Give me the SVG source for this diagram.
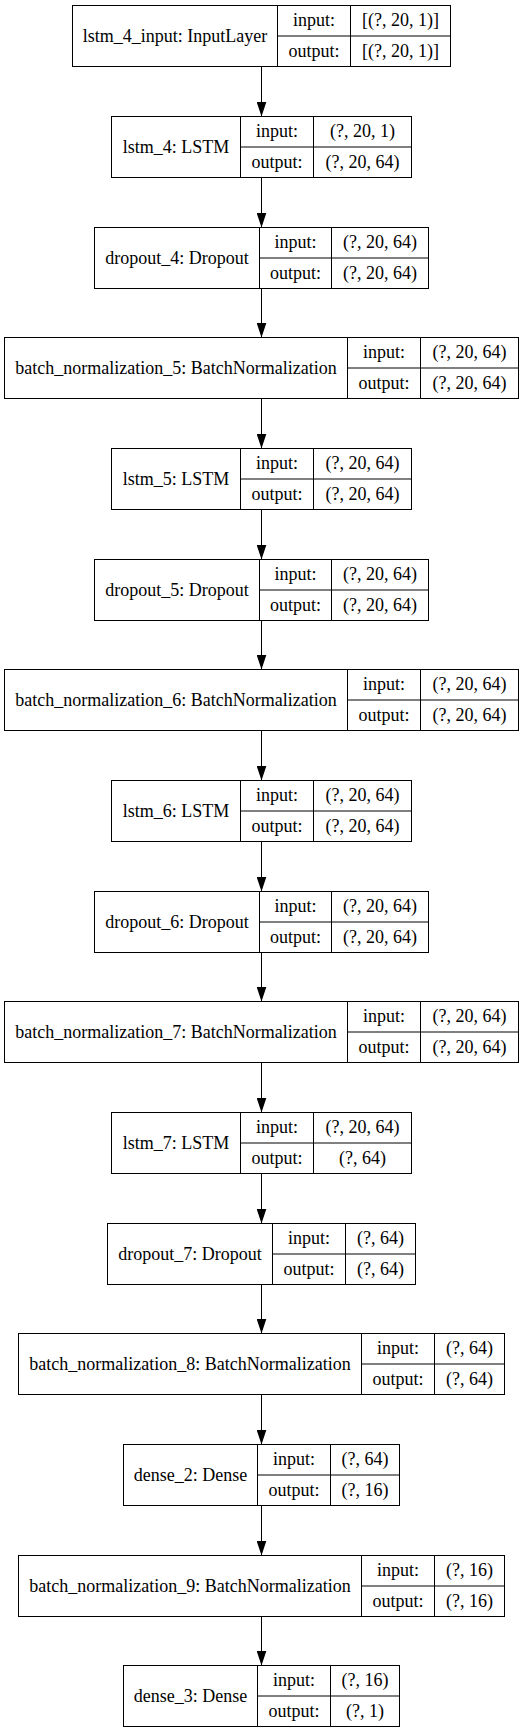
<svg xmlns="http://www.w3.org/2000/svg" width="529" height="1733" viewBox="0 0 529 1733">
<defs>
<style>
.b{fill:none;stroke:#000;stroke-width:1}
.t{font-family:"Liberation Serif","Times New Roman",serif;font-size:18px;fill:#000;text-anchor:middle}
.e{fill:none;stroke:#000;stroke-width:1}
</style>
<marker id="ah" viewBox="0 0 15 10" refX="15" refY="5" markerWidth="15" markerHeight="10" markerUnits="userSpaceOnUse" orient="auto">
<path d="M0,0 L15,5 L0,10 z" fill="#000"/>
</marker>
</defs>
<rect width="529" height="1733" fill="#fff"/>
<g id="edges">
<line class="e" x1="261.5" y1="66.5" x2="261.5" y2="116.5" marker-end="url(#ah)"/>
<line class="e" x1="261.5" y1="177.5" x2="261.5" y2="227.5" marker-end="url(#ah)"/>
<line class="e" x1="261.5" y1="288.5" x2="261.5" y2="337.5" marker-end="url(#ah)"/>
<line class="e" x1="261.5" y1="398.5" x2="261.5" y2="448.5" marker-end="url(#ah)"/>
<line class="e" x1="261.5" y1="509.5" x2="261.5" y2="559.5" marker-end="url(#ah)"/>
<line class="e" x1="261.5" y1="620.5" x2="261.5" y2="669.5" marker-end="url(#ah)"/>
<line class="e" x1="261.5" y1="730.5" x2="261.5" y2="780.5" marker-end="url(#ah)"/>
<line class="e" x1="261.5" y1="841.5" x2="261.5" y2="891.5" marker-end="url(#ah)"/>
<line class="e" x1="261.5" y1="952.5" x2="261.5" y2="1001.5" marker-end="url(#ah)"/>
<line class="e" x1="261.5" y1="1062.5" x2="261.5" y2="1112.5" marker-end="url(#ah)"/>
<line class="e" x1="261.5" y1="1173.5" x2="261.5" y2="1223.5" marker-end="url(#ah)"/>
<line class="e" x1="261.5" y1="1284.5" x2="261.5" y2="1333.5" marker-end="url(#ah)"/>
<line class="e" x1="261.5" y1="1394.5" x2="261.5" y2="1444.5" marker-end="url(#ah)"/>
<line class="e" x1="261.5" y1="1505.5" x2="261.5" y2="1555.5" marker-end="url(#ah)"/>
<line class="e" x1="261.5" y1="1616.5" x2="261.5" y2="1665.5" marker-end="url(#ah)"/>
</g>
<g id="lstm_4_input" transform="translate(0,5.5)">
<rect class="b" x="72.5" y="0" width="378" height="61"/>
<path class="b" d="M277.5,0V61M350.5,0V61M277.5,30.5H450.5"/>
<text class="t" x="175" y="36">lstm_4_input: InputLayer</text>
<text class="t" x="314" y="20.75">input:</text>
<text class="t" x="400.5" y="20.75">[(?, 20, 1)]</text>
<text class="t" x="314" y="51.25">output:</text>
<text class="t" x="400.5" y="51.25">[(?, 20, 1)]</text>
</g>
<g id="lstm_4" transform="translate(0,116.5)">
<rect class="b" x="111.5" y="0" width="300" height="61"/>
<path class="b" d="M240.5,0V61M313.5,0V61M240.5,30.5H411.5"/>
<text class="t" x="176" y="36">lstm_4: LSTM</text>
<text class="t" x="277" y="20.75">input:</text>
<text class="t" x="362.5" y="20.75">(?, 20, 1)</text>
<text class="t" x="277" y="51.25">output:</text>
<text class="t" x="362.5" y="51.25">(?, 20, 64)</text>
</g>
<g id="dropout_4" transform="translate(0,227.5)">
<rect class="b" x="94.5" y="0" width="334" height="61"/>
<path class="b" d="M259.5,0V61M331.5,0V61M259.5,30.5H428.5"/>
<text class="t" x="177" y="36">dropout_4: Dropout</text>
<text class="t" x="295.5" y="20.75">input:</text>
<text class="t" x="380" y="20.75">(?, 20, 64)</text>
<text class="t" x="295.5" y="51.25">output:</text>
<text class="t" x="380" y="51.25">(?, 20, 64)</text>
</g>
<g id="batch_normalization_5" transform="translate(0,337.5)">
<rect class="b" x="4.5" y="0" width="514" height="61"/>
<path class="b" d="M347.5,0V61M420.5,0V61M347.5,30.5H518.5"/>
<text class="t" x="176" y="36">batch_normalization_5: BatchNormalization</text>
<text class="t" x="384" y="20.75">input:</text>
<text class="t" x="469.5" y="20.75">(?, 20, 64)</text>
<text class="t" x="384" y="51.25">output:</text>
<text class="t" x="469.5" y="51.25">(?, 20, 64)</text>
</g>
<g id="lstm_5" transform="translate(0,448.5)">
<rect class="b" x="111.5" y="0" width="300" height="61"/>
<path class="b" d="M240.5,0V61M313.5,0V61M240.5,30.5H411.5"/>
<text class="t" x="176" y="36">lstm_5: LSTM</text>
<text class="t" x="277" y="20.75">input:</text>
<text class="t" x="362.5" y="20.75">(?, 20, 64)</text>
<text class="t" x="277" y="51.25">output:</text>
<text class="t" x="362.5" y="51.25">(?, 20, 64)</text>
</g>
<g id="dropout_5" transform="translate(0,559.5)">
<rect class="b" x="94.5" y="0" width="334" height="61"/>
<path class="b" d="M259.5,0V61M331.5,0V61M259.5,30.5H428.5"/>
<text class="t" x="177" y="36">dropout_5: Dropout</text>
<text class="t" x="295.5" y="20.75">input:</text>
<text class="t" x="380" y="20.75">(?, 20, 64)</text>
<text class="t" x="295.5" y="51.25">output:</text>
<text class="t" x="380" y="51.25">(?, 20, 64)</text>
</g>
<g id="batch_normalization_6" transform="translate(0,669.5)">
<rect class="b" x="4.5" y="0" width="514" height="61"/>
<path class="b" d="M347.5,0V61M420.5,0V61M347.5,30.5H518.5"/>
<text class="t" x="176" y="36">batch_normalization_6: BatchNormalization</text>
<text class="t" x="384" y="20.75">input:</text>
<text class="t" x="469.5" y="20.75">(?, 20, 64)</text>
<text class="t" x="384" y="51.25">output:</text>
<text class="t" x="469.5" y="51.25">(?, 20, 64)</text>
</g>
<g id="lstm_6" transform="translate(0,780.5)">
<rect class="b" x="111.5" y="0" width="300" height="61"/>
<path class="b" d="M240.5,0V61M313.5,0V61M240.5,30.5H411.5"/>
<text class="t" x="176" y="36">lstm_6: LSTM</text>
<text class="t" x="277" y="20.75">input:</text>
<text class="t" x="362.5" y="20.75">(?, 20, 64)</text>
<text class="t" x="277" y="51.25">output:</text>
<text class="t" x="362.5" y="51.25">(?, 20, 64)</text>
</g>
<g id="dropout_6" transform="translate(0,891.5)">
<rect class="b" x="94.5" y="0" width="334" height="61"/>
<path class="b" d="M259.5,0V61M331.5,0V61M259.5,30.5H428.5"/>
<text class="t" x="177" y="36">dropout_6: Dropout</text>
<text class="t" x="295.5" y="20.75">input:</text>
<text class="t" x="380" y="20.75">(?, 20, 64)</text>
<text class="t" x="295.5" y="51.25">output:</text>
<text class="t" x="380" y="51.25">(?, 20, 64)</text>
</g>
<g id="batch_normalization_7" transform="translate(0,1001.5)">
<rect class="b" x="4.5" y="0" width="514" height="61"/>
<path class="b" d="M347.5,0V61M420.5,0V61M347.5,30.5H518.5"/>
<text class="t" x="176" y="36">batch_normalization_7: BatchNormalization</text>
<text class="t" x="384" y="20.75">input:</text>
<text class="t" x="469.5" y="20.75">(?, 20, 64)</text>
<text class="t" x="384" y="51.25">output:</text>
<text class="t" x="469.5" y="51.25">(?, 20, 64)</text>
</g>
<g id="lstm_7" transform="translate(0,1112.5)">
<rect class="b" x="111.5" y="0" width="300" height="61"/>
<path class="b" d="M240.5,0V61M313.5,0V61M240.5,30.5H411.5"/>
<text class="t" x="176" y="36">lstm_7: LSTM</text>
<text class="t" x="277" y="20.75">input:</text>
<text class="t" x="362.5" y="20.75">(?, 20, 64)</text>
<text class="t" x="277" y="51.25">output:</text>
<text class="t" x="362.5" y="51.25">(?, 64)</text>
</g>
<g id="dropout_7" transform="translate(0,1223.5)">
<rect class="b" x="107.5" y="0" width="308" height="61"/>
<path class="b" d="M272.5,0V61M345.5,0V61M272.5,30.5H415.5"/>
<text class="t" x="190" y="36">dropout_7: Dropout</text>
<text class="t" x="309" y="20.75">input:</text>
<text class="t" x="380.5" y="20.75">(?, 64)</text>
<text class="t" x="309" y="51.25">output:</text>
<text class="t" x="380.5" y="51.25">(?, 64)</text>
</g>
<g id="batch_normalization_8" transform="translate(0,1333.5)">
<rect class="b" x="18.5" y="0" width="486" height="61"/>
<path class="b" d="M361.5,0V61M434.5,0V61M361.5,30.5H504.5"/>
<text class="t" x="190" y="36">batch_normalization_8: BatchNormalization</text>
<text class="t" x="398" y="20.75">input:</text>
<text class="t" x="469.5" y="20.75">(?, 64)</text>
<text class="t" x="398" y="51.25">output:</text>
<text class="t" x="469.5" y="51.25">(?, 64)</text>
</g>
<g id="dense_2" transform="translate(0,1444.5)">
<rect class="b" x="123.5" y="0" width="276" height="61"/>
<path class="b" d="M257.5,0V61M330.5,0V61M257.5,30.5H399.5"/>
<text class="t" x="190.5" y="36">dense_2: Dense</text>
<text class="t" x="294" y="20.75">input:</text>
<text class="t" x="365" y="20.75">(?, 64)</text>
<text class="t" x="294" y="51.25">output:</text>
<text class="t" x="365" y="51.25">(?, 16)</text>
</g>
<g id="batch_normalization_9" transform="translate(0,1555.5)">
<rect class="b" x="18.5" y="0" width="486" height="61"/>
<path class="b" d="M361.5,0V61M434.5,0V61M361.5,30.5H504.5"/>
<text class="t" x="190" y="36">batch_normalization_9: BatchNormalization</text>
<text class="t" x="398" y="20.75">input:</text>
<text class="t" x="469.5" y="20.75">(?, 16)</text>
<text class="t" x="398" y="51.25">output:</text>
<text class="t" x="469.5" y="51.25">(?, 16)</text>
</g>
<g id="dense_3" transform="translate(0,1665.5)">
<rect class="b" x="123.5" y="0" width="276" height="61"/>
<path class="b" d="M257.5,0V61M330.5,0V61M257.5,30.5H399.5"/>
<text class="t" x="190.5" y="36">dense_3: Dense</text>
<text class="t" x="294" y="20.75">input:</text>
<text class="t" x="365" y="20.75">(?, 16)</text>
<text class="t" x="294" y="51.25">output:</text>
<text class="t" x="365" y="51.25">(?, 1)</text>
</g>
</svg>
